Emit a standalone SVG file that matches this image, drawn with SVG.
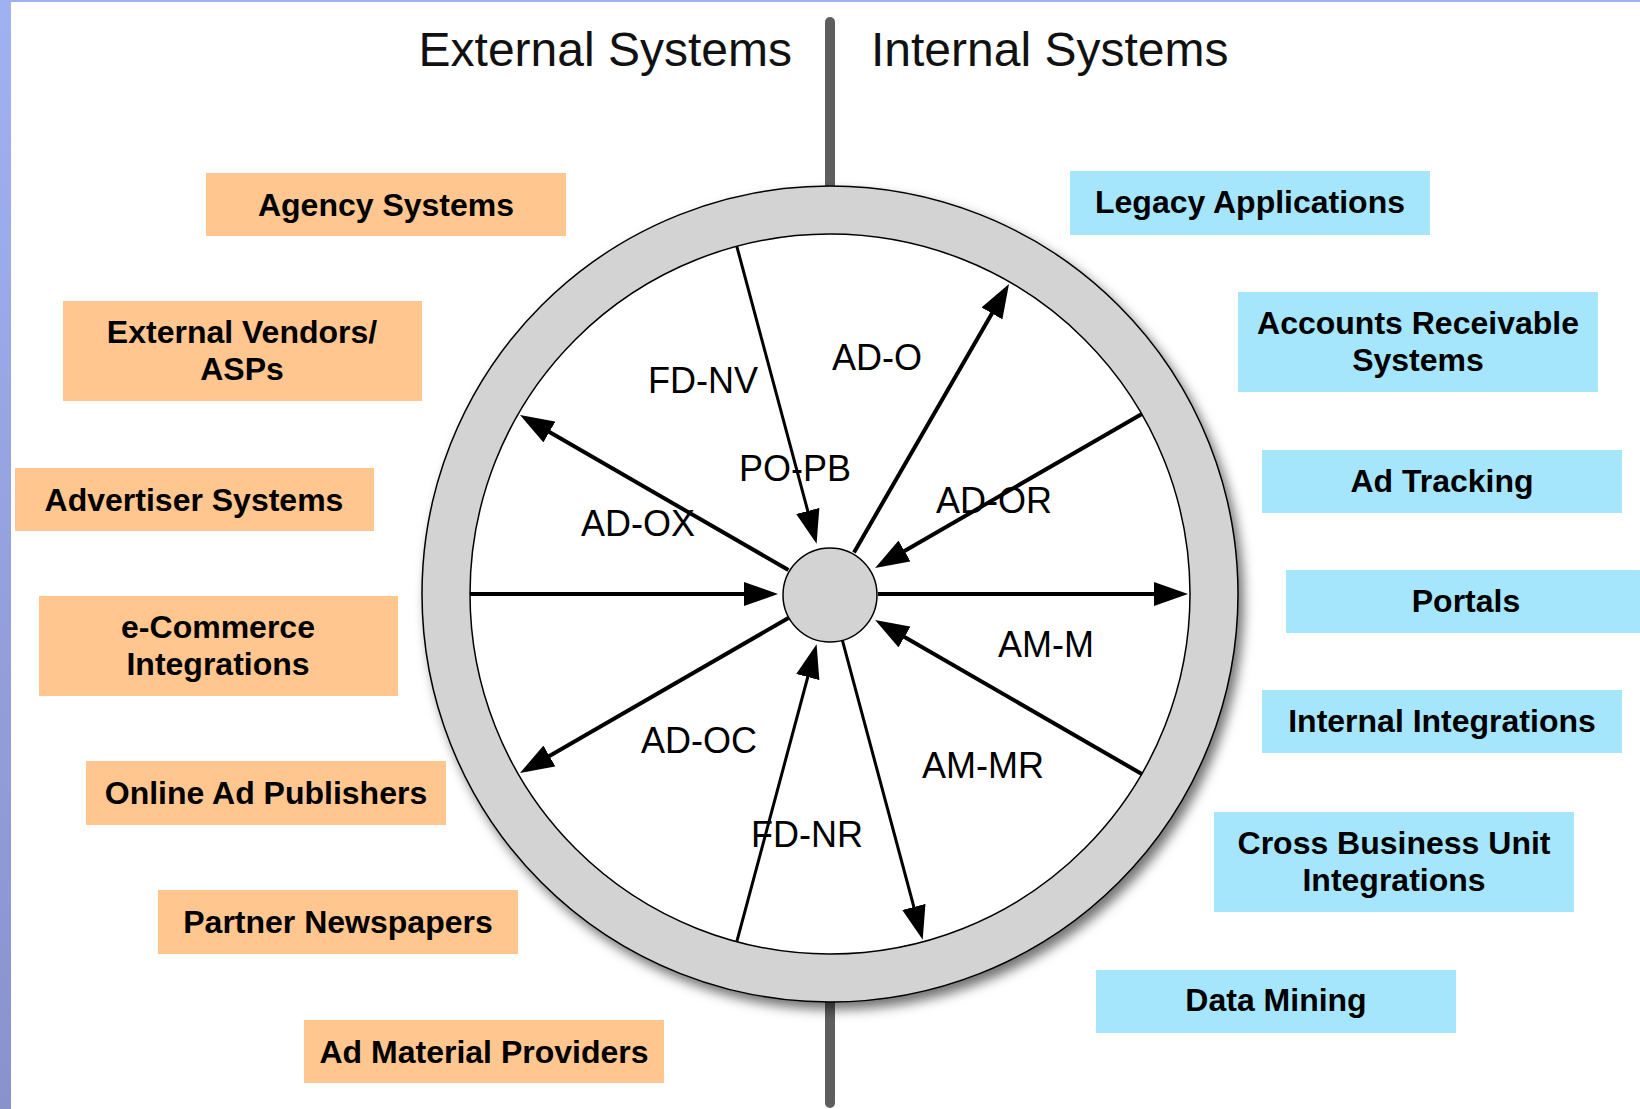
<svg xmlns="http://www.w3.org/2000/svg" width="1640" height="1109" viewBox="0 0 1640 1109">
  <defs>
    <linearGradient id="edge" x1="0" y1="0" x2="0" y2="1">
      <stop offset="0" stop-color="#a0b1f2"/>
      <stop offset="1" stop-color="#8a92cc"/>
    </linearGradient>
    <filter id="ringShadow" x="-10%" y="-10%" width="125%" height="125%">
      <feDropShadow dx="5" dy="7" stdDeviation="6" flood-color="#000" flood-opacity="0.55"/>
    </filter>
    <marker id="ah" markerUnits="userSpaceOnUse" markerWidth="34" markerHeight="24" viewBox="0 0 34 24" refX="14" refY="12" orient="auto">
      <path d="M0,0 L34,12 L0,24 z" fill="#000"/>
    </marker>
  </defs>
  <style>
    .title { font-family: "Liberation Sans", Arial, sans-serif; font-size: 48px; fill: #111; }
    .ext rect { fill: #ffc68f; }
    .int rect { fill: #a6e6fc; }
    .box text { font-family: "Liberation Sans", Arial, sans-serif; font-size: 32px; font-weight: bold; fill: #000; text-anchor: middle; }
    .spoke { stroke: #000; stroke-width: 4; fill: none; marker-end: url(#ah); }
    .thin { stroke-width: 3; }
    .lbl { font-family: "Liberation Sans", Arial, sans-serif; font-size: 36px; fill: #000; text-anchor: middle; }
  </style>

  <!-- page background with blue frame edge -->
  <rect x="0" y="0" width="1640" height="1109" fill="#fff"/>
  <rect x="0" y="0" width="1640" height="2" fill="#9fb0f0"/>
  <rect x="0" y="0" width="11" height="1109" fill="url(#edge)"/>

  <!-- divider between external and internal sides -->
  <line x1="830" y1="22" x2="830" y2="1103" stroke="#5e5e5e" stroke-width="10" stroke-linecap="round"/>

  <text class="title" x="792" y="66" text-anchor="end">External Systems</text>
  <text class="title" x="871" y="66">Internal Systems</text>

  <!-- ring -->
  <g id="ring">
    <circle cx="830" cy="594" r="408" fill="#d3d3d3" stroke="#000" stroke-width="1.5" filter="url(#ringShadow)"/>
    <circle cx="830" cy="594" r="360" fill="#fff" stroke="#000" stroke-width="1.5"/>
  </g>

  <!-- spokes -->
  <g id="connectors">
    <line class="spoke thin" x1="736.8" y1="246.3" x2="811.4" y2="524.5"/>
    <line class="spoke" x1="854" y1="552.4" x2="999" y2="301.3"/>
    <line class="spoke" x1="1141.8" y1="414" x2="892.4" y2="558"/>
    <line class="spoke" x1="878" y1="594" x2="1168" y2="594"/>
    <line class="spoke" x1="1141.8" y1="774" x2="892.4" y2="630"/>
    <line class="spoke thin" x1="842.4" y1="640.4" x2="917.5" y2="920.5"/>
    <line class="spoke thin" x1="736.8" y1="941.7" x2="811.4" y2="663.5"/>
    <line class="spoke" x1="788.4" y1="618" x2="537.3" y2="763"/>
    <line class="spoke" x1="470" y1="594" x2="758" y2="594"/>
    <line class="spoke" x1="788.4" y1="570" x2="537.3" y2="425"/>
  </g>

  <!-- hub -->
  <g id="hub">
    <circle cx="830" cy="595" r="47" fill="#d3d3d3" stroke="#000" stroke-width="1.5"/>
  </g>

  <!-- spoke labels -->
  <g id="labels">
    <text class="lbl" x="703" y="393">FD-NV</text>
    <text class="lbl" x="877" y="370">AD-O</text>
    <text class="lbl" x="795" y="481">PO-PB</text>
    <text class="lbl" x="638" y="536">AD-OX</text>
    <text class="lbl" x="994" y="513">AD-OR</text>
    <text class="lbl" x="1046" y="657">AM-M</text>
    <text class="lbl" x="699" y="753">AD-OC</text>
    <text class="lbl" x="983" y="778">AM-MR</text>
    <text class="lbl" x="807" y="847">FD-NR</text>
  </g>

  <!-- external systems -->
  <g id="agency" class="box ext">
    <rect x="206" y="173" width="360" height="63"/>
    <text x="386" y="216">Agency Systems</text>
  </g>
  <g id="vendors" class="box ext">
    <rect x="63" y="301" width="359" height="100"/>
    <text x="242" y="343">External Vendors/</text>
    <text x="242" y="380">ASPs</text>
  </g>
  <g id="advertiser" class="box ext">
    <rect x="15" y="468" width="359" height="63"/>
    <text x="194" y="511">Advertiser Systems</text>
  </g>
  <g id="ecommerce" class="box ext">
    <rect x="39" y="596" width="359" height="100"/>
    <text x="218" y="638">e-Commerce</text>
    <text x="218" y="675">Integrations</text>
  </g>
  <g id="publishers" class="box ext">
    <rect x="86" y="761" width="360" height="64"/>
    <text x="266" y="804">Online Ad Publishers</text>
  </g>
  <g id="newspapers" class="box ext">
    <rect x="158" y="890" width="360" height="64"/>
    <text x="338" y="933">Partner Newspapers</text>
  </g>
  <g id="material" class="box ext">
    <rect x="304" y="1020" width="360" height="63"/>
    <text x="484" y="1063">Ad Material Providers</text>
  </g>

  <!-- internal systems -->
  <g id="legacy" class="box int">
    <rect x="1070" y="171" width="360" height="64"/>
    <text x="1250" y="213">Legacy Applications</text>
  </g>
  <g id="receivable" class="box int">
    <rect x="1238" y="292" width="360" height="100"/>
    <text x="1418" y="334">Accounts Receivable</text>
    <text x="1418" y="371">Systems</text>
  </g>
  <g id="tracking" class="box int">
    <rect x="1262" y="450" width="360" height="63"/>
    <text x="1442" y="492">Ad Tracking</text>
  </g>
  <g id="portals" class="box int">
    <rect x="1286" y="570" width="360" height="63"/>
    <text x="1466" y="612">Portals</text>
  </g>
  <g id="integrations" class="box int">
    <rect x="1262" y="690" width="360" height="63"/>
    <text x="1442" y="732">Internal Integrations</text>
  </g>
  <g id="crossbu" class="box int">
    <rect x="1214" y="812" width="360" height="100"/>
    <text x="1394" y="854">Cross Business Unit</text>
    <text x="1394" y="891">Integrations</text>
  </g>
  <g id="mining" class="box int">
    <rect x="1096" y="970" width="360" height="63"/>
    <text x="1276" y="1011">Data Mining</text>
  </g>
</svg>
